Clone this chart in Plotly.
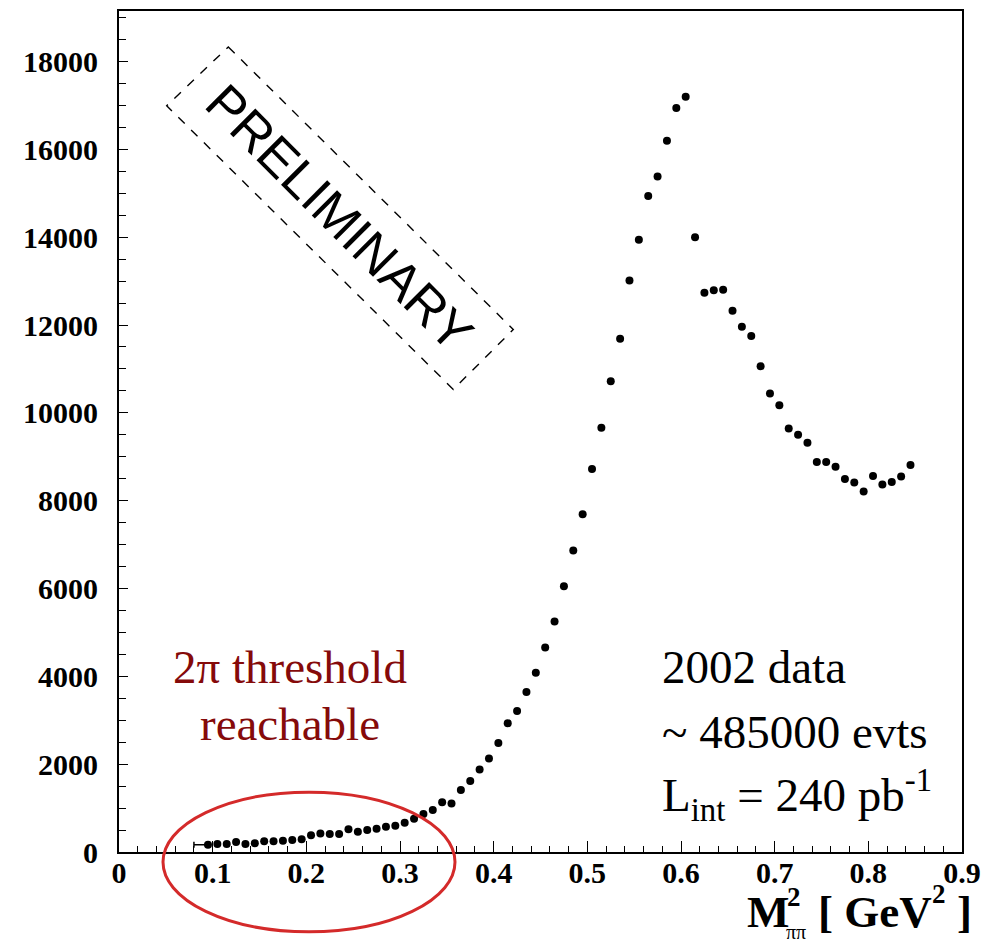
import plotly.graph_objects as go

# pi+pi- invariant mass squared, bin centres [GeV^2]
m2_bins = [
    0.095, 0.105, 0.115, 0.125, 0.135, 0.145, 0.155, 0.165, 0.175, 0.185,
    0.195, 0.205, 0.215, 0.225, 0.235, 0.245, 0.255, 0.265, 0.275, 0.285,
    0.295, 0.305, 0.315, 0.325, 0.335, 0.345, 0.355, 0.365, 0.375, 0.385,
    0.395, 0.405, 0.415, 0.425, 0.435, 0.445, 0.455, 0.465, 0.475, 0.485,
    0.495, 0.505, 0.515, 0.525, 0.535, 0.545, 0.555, 0.565, 0.575, 0.585,
    0.595, 0.605, 0.615, 0.625, 0.635, 0.645, 0.655, 0.665, 0.675, 0.685,
    0.695, 0.705, 0.715, 0.725, 0.735, 0.745, 0.755, 0.765, 0.775, 0.785,
    0.795, 0.805, 0.815, 0.825, 0.835, 0.845,
]

# events per bin
events = [
    167, 182, 182, 227, 182, 197, 242, 242, 258, 273,
    288, 379, 424, 409, 409, 516, 461, 500, 530, 575,
    598, 666, 757, 864, 955, 1130, 1107, 1409, 1614, 1879,
    2129, 2484, 2932, 3211, 3643, 4084, 4659, 5250, 6052, 6864,
    7689, 8720, 9659, 10720, 11689, 13016, 13939, 14939, 15380, 16198,
    16939, 17198, 14000, 12734, 12789, 12802, 12325, 11961, 11750, 11061,
    10439, 10175, 9643, 9500, 9318, 8880, 8880, 8773, 8493, 8416,
    8211, 8561, 8370, 8425, 8552, 8811,
]

# lower x-extent of the first (threshold) bin
x_err_minus = [0.015] + [0.0] * (len(m2_bins) - 1)
x_err_plus = [0.0] * len(m2_bins)

x_ticks = [0, 0.1, 0.2, 0.3, 0.4, 0.5, 0.6, 0.7, 0.8, 0.9]
x_tick_text = ["0", "0.1", "0.2", "0.3", "0.4", "0.5", "0.6", "0.7", "0.8", "0.9"]
y_ticks = [0, 2000, 4000, 6000, 8000, 10000, 12000, 14000, 16000, 18000]
y_tick_text = ["0", "2000", "4000", "6000", "8000", "10000", "12000",
               "14000", "16000", "18000"]

W, H = 991, 945
ML, MR, MT, MB = 119, 29, 9, 93
PW, PH = W - ML - MR, H - MT - MB


def px(xp):
    return (xp - ML) / PW


def py(yp):
    return (H - MB - yp) / PH


serif = "Liberation Serif"
sans = "Liberation Sans"

fig = go.Figure()
fig.add_trace(go.Scatter(
    x=m2_bins, y=events, mode="markers",
    marker=dict(color="black", size=8, symbol="circle"),
    error_x=dict(type="data", symmetric=False, array=x_err_plus,
                 arrayminus=x_err_minus, color="black", thickness=1.5, width=3),
    showlegend=False, hoverinfo="x+y",
))

tickfont = dict(family=serif, size=30, color="black", weight="bold")

fig.update_xaxes(
    range=[0, 0.9], tickmode="array", tickvals=x_ticks, ticktext=x_tick_text,
    ticks="inside", ticklen=11, tickwidth=1.3, tickcolor="black",
    minor=dict(ticks="inside", ticklen=6, dtick=0.02, tickwidth=1.2, tickcolor="black"),
    showline=True, linecolor="black", linewidth=2, mirror=True,
    showgrid=False, zeroline=False, tickfont=tickfont, ticklabelstandoff=-7,
)
fig.update_yaxes(
    range=[0, 19150], tickmode="array", tickvals=y_ticks, ticktext=y_tick_text,
    ticks="inside", ticklen=9, tickwidth=1.3, tickcolor="black",
    minor=dict(ticks="inside", ticklen=7, dtick=500, tickwidth=1.2, tickcolor="black"),
    showline=True, linecolor="black", linewidth=2, mirror=True,
    showgrid=False, zeroline=False, tickfont=tickfont, ticklabelstandoff=13,
)

annotations = []


def note(text, xp, yp, size, family=serif, color="black", xanchor="left",
         weight="normal", angle=0):
    annotations.append(dict(
        text=text, x=px(xp), y=py(yp), xref="paper", yref="paper",
        xanchor=xanchor, yanchor="middle", showarrow=False, textangle=angle,
        font=dict(family=family, size=size, color=color, weight=weight),
    ))


# threshold label
red_text = "#850a0a"
note("2\u03c0 threshold", 290, 667, 47, color=red_text, xanchor="center")
note("reachable", 290, 724, 47, color=red_text, xanchor="center")

# run summary
note("2002 data", 660, 667, 47)
note("~ 485000 evts", 660, 732, 47)
note("L<sub>int</sub> = 240 pb<sup>-1</sup>", 660, 795, 47)

# axis title  M^2_{pipi} [ GeV^2 ]
note("M", 745, 912, 45, weight="bold")
note("2", 785, 897, 27, weight="bold")
note("\u03c0\u03c0", 784, 932, 20)
note("[ GeV", 816, 912, 45, weight="bold")
note("2", 930, 894, 27, weight="bold")
note("]", 955, 912, 45, weight="bold")

# watermark
note("PRELIMINARY", 340, 216, 52, family=sans, xanchor="center", angle=45)

box_pts = [(228.3, 45), (513.3, 328.3), (453.3, 388.3), (166.7, 104)]
box_path = "M " + " L ".join(f"{px(a):.5f},{py(b):.5f}" for a, b in box_pts) + " Z"

shapes = [
    dict(type="path", path=box_path, xref="paper", yref="paper",
         line=dict(color="black", width=1.4, dash="dash")),
    dict(type="circle", xref="paper", yref="paper",
         x0=px(163), x1=px(455), y0=py(932), y1=py(792),
         line=dict(color="#d42a2a", width=3)),
]

fig.update_layout(
    width=W, height=H, autosize=False,
    margin=dict(l=ML, r=MR, t=MT, b=MB),
    paper_bgcolor="white", plot_bgcolor="white",
    annotations=annotations, shapes=shapes,
)

fig.write_html("out.html")
